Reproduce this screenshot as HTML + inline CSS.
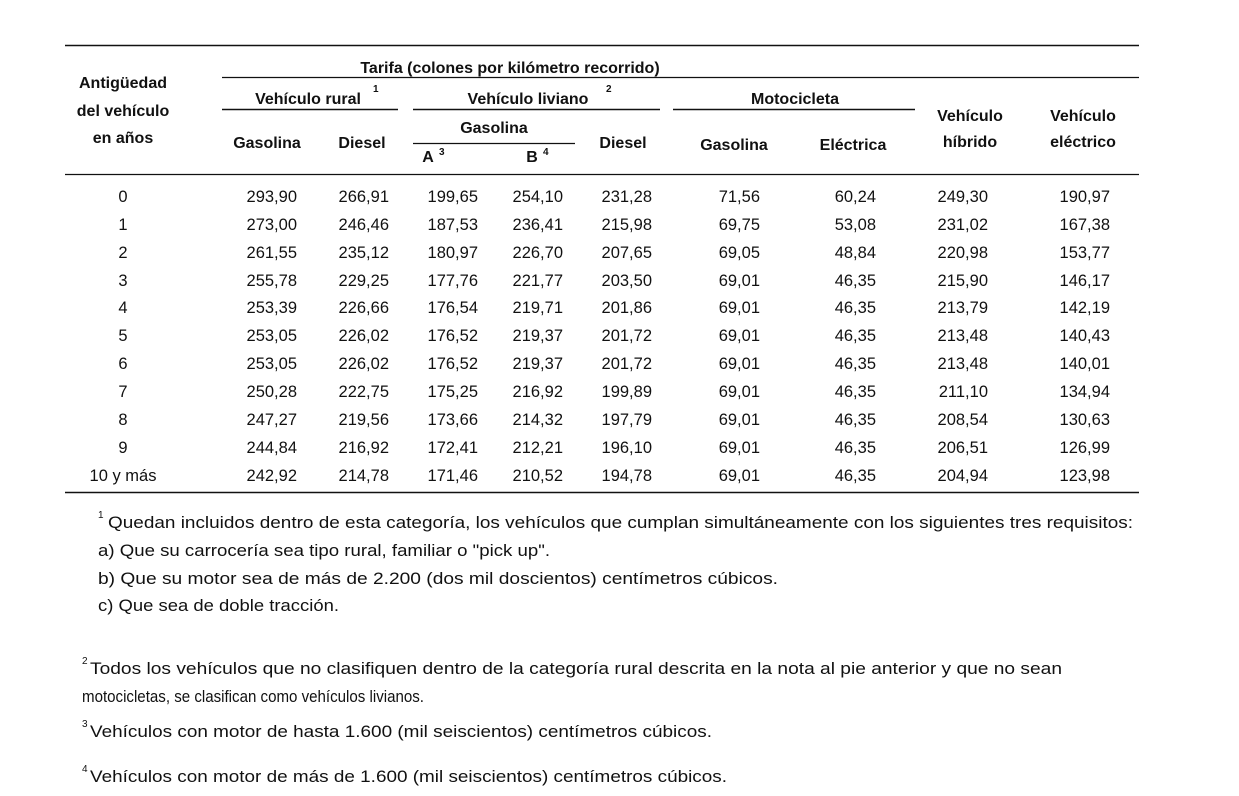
<!DOCTYPE html>
<html><head><meta charset="utf-8"><style>
html,body{margin:0;padding:0;background:#fff;}
svg{display:block;}
text{font-family:"Liberation Sans",sans-serif;fill:#111;}
.h{font-weight:bold;font-size:16px;}
.d{font-size:16.5px;}
.f{font-size:16.5px;}
.s{font-size:10px;}
</style></head><body>
<svg width="1239" height="796" viewBox="0 0 1239 796">
<g stroke="#111">
<line x1="65" y1="45.5" x2="1139" y2="45.5" stroke-width="1.6"/>
<line x1="222" y1="77.5" x2="1139" y2="77.5" stroke-width="1.2"/>
<line x1="222" y1="109.5" x2="398" y2="109.5" stroke-width="1.6"/>
<line x1="413" y1="109.5" x2="660" y2="109.5" stroke-width="1.6"/>
<line x1="673" y1="109.5" x2="915" y2="109.5" stroke-width="1.6"/>
<line x1="413" y1="143.5" x2="575" y2="143.5" stroke-width="1.2"/>
<line x1="65" y1="174.5" x2="1139" y2="174.5" stroke-width="1.2"/>
<line x1="65" y1="492.5" x2="1139" y2="492.5" stroke-width="1.6"/>
</g>
<g class="h" text-anchor="middle">
<text x="510" y="73">Tarifa (colones por kilómetro recorrido)</text>
<text x="123" y="88">Antigüedad</text>
<text x="123" y="116">del vehículo</text>
<text x="123" y="143">en años</text>
<text x="308" y="104">Vehículo rural</text>
<text x="528" y="104">Vehículo liviano</text>
<text x="795" y="104">Motocicleta</text>
<text x="494" y="133">Gasolina</text>
<text x="267" y="148">Gasolina</text>
<text x="362" y="148">Diesel</text>
<text x="623" y="148">Diesel</text>
<text x="734" y="150">Gasolina</text>
<text x="853" y="150">Eléctrica</text>
<text x="970" y="121">Vehículo</text>
<text x="970" y="147">híbrido</text>
<text x="1083" y="121">Vehículo</text>
<text x="1083" y="147">eléctrico</text>
<text x="428" y="162">A</text>
<text x="532" y="162">B</text>
</g>
<g class="s" font-weight="bold">
<text x="373" y="92">1</text>
<text x="606" y="92">2</text>
<text x="439" y="155">3</text>
<text x="543" y="155">4</text>
</g>
<g class="d" id="rows"></g>
<g class="f">
<text x="98" y="518" class="s">1</text>
<text x="108" y="528" textLength="1025" lengthAdjust="spacingAndGlyphs">Quedan incluidos dentro de esta categoría, los vehículos que cumplan simultáneamente con los siguientes tres requisitos:</text>
<text x="98" y="556" textLength="452" lengthAdjust="spacingAndGlyphs">a) Que su carrocería sea tipo rural, familiar o "pick up".</text>
<text x="98" y="584" textLength="680" lengthAdjust="spacingAndGlyphs">b) Que su motor sea de más de 2.200 (dos mil doscientos) centímetros cúbicos.</text>
<text x="98" y="611" textLength="241" lengthAdjust="spacingAndGlyphs">c) Que sea de doble tracción.</text>
<text x="82" y="664" class="s">2</text>
<text x="90" y="674" textLength="972" lengthAdjust="spacingAndGlyphs">Todos los vehículos que no clasifiquen dentro de la categoría rural descrita en la nota al pie anterior y que no sean</text>
<text x="82" y="702" textLength="342" lengthAdjust="spacingAndGlyphs">motocicletas, se clasifican como vehículos livianos.</text>
<text x="82" y="727" class="s">3</text>
<text x="90" y="737" textLength="622" lengthAdjust="spacingAndGlyphs">Vehículos con motor de hasta 1.600 (mil seiscientos) centímetros cúbicos.</text>
<text x="82" y="772" class="s">4</text>
<text x="90" y="782" textLength="637" lengthAdjust="spacingAndGlyphs">Vehículos con motor de más de 1.600 (mil seiscientos) centímetros cúbicos.</text>
</g>
<g class="d">
<text x="123" y="202" text-anchor="middle">0</text><text x="123" y="230" text-anchor="middle">1</text><text x="123" y="258" text-anchor="middle">2</text><text x="123" y="286" text-anchor="middle">3</text><text x="123" y="313" text-anchor="middle">4</text><text x="123" y="341" text-anchor="middle">5</text><text x="123" y="369" text-anchor="middle">6</text><text x="123" y="397" text-anchor="middle">7</text><text x="123" y="425" text-anchor="middle">8</text><text x="123" y="453" text-anchor="middle">9</text><text x="123" y="481" text-anchor="middle">10 y más</text>
</g>
<g class="d" text-anchor="end">
<text y="202"><tspan x="297">293,90</tspan><tspan x="389">266,91</tspan><tspan x="478">199,65</tspan><tspan x="563">254,10</tspan><tspan x="652">231,28</tspan><tspan x="760">71,56</tspan><tspan x="876">60,24</tspan><tspan x="988">249,30</tspan><tspan x="1110">190,97</tspan></text>
<text y="230"><tspan x="297">273,00</tspan><tspan x="389">246,46</tspan><tspan x="478">187,53</tspan><tspan x="563">236,41</tspan><tspan x="652">215,98</tspan><tspan x="760">69,75</tspan><tspan x="876">53,08</tspan><tspan x="988">231,02</tspan><tspan x="1110">167,38</tspan></text>
<text y="258"><tspan x="297">261,55</tspan><tspan x="389">235,12</tspan><tspan x="478">180,97</tspan><tspan x="563">226,70</tspan><tspan x="652">207,65</tspan><tspan x="760">69,05</tspan><tspan x="876">48,84</tspan><tspan x="988">220,98</tspan><tspan x="1110">153,77</tspan></text>
<text y="286"><tspan x="297">255,78</tspan><tspan x="389">229,25</tspan><tspan x="478">177,76</tspan><tspan x="563">221,77</tspan><tspan x="652">203,50</tspan><tspan x="760">69,01</tspan><tspan x="876">46,35</tspan><tspan x="988">215,90</tspan><tspan x="1110">146,17</tspan></text>
<text y="313"><tspan x="297">253,39</tspan><tspan x="389">226,66</tspan><tspan x="478">176,54</tspan><tspan x="563">219,71</tspan><tspan x="652">201,86</tspan><tspan x="760">69,01</tspan><tspan x="876">46,35</tspan><tspan x="988">213,79</tspan><tspan x="1110">142,19</tspan></text>
<text y="341"><tspan x="297">253,05</tspan><tspan x="389">226,02</tspan><tspan x="478">176,52</tspan><tspan x="563">219,37</tspan><tspan x="652">201,72</tspan><tspan x="760">69,01</tspan><tspan x="876">46,35</tspan><tspan x="988">213,48</tspan><tspan x="1110">140,43</tspan></text>
<text y="369"><tspan x="297">253,05</tspan><tspan x="389">226,02</tspan><tspan x="478">176,52</tspan><tspan x="563">219,37</tspan><tspan x="652">201,72</tspan><tspan x="760">69,01</tspan><tspan x="876">46,35</tspan><tspan x="988">213,48</tspan><tspan x="1110">140,01</tspan></text>
<text y="397"><tspan x="297">250,28</tspan><tspan x="389">222,75</tspan><tspan x="478">175,25</tspan><tspan x="563">216,92</tspan><tspan x="652">199,89</tspan><tspan x="760">69,01</tspan><tspan x="876">46,35</tspan><tspan x="988">211,10</tspan><tspan x="1110">134,94</tspan></text>
<text y="425"><tspan x="297">247,27</tspan><tspan x="389">219,56</tspan><tspan x="478">173,66</tspan><tspan x="563">214,32</tspan><tspan x="652">197,79</tspan><tspan x="760">69,01</tspan><tspan x="876">46,35</tspan><tspan x="988">208,54</tspan><tspan x="1110">130,63</tspan></text>
<text y="453"><tspan x="297">244,84</tspan><tspan x="389">216,92</tspan><tspan x="478">172,41</tspan><tspan x="563">212,21</tspan><tspan x="652">196,10</tspan><tspan x="760">69,01</tspan><tspan x="876">46,35</tspan><tspan x="988">206,51</tspan><tspan x="1110">126,99</tspan></text>
<text y="481"><tspan x="297">242,92</tspan><tspan x="389">214,78</tspan><tspan x="478">171,46</tspan><tspan x="563">210,52</tspan><tspan x="652">194,78</tspan><tspan x="760">69,01</tspan><tspan x="876">46,35</tspan><tspan x="988">204,94</tspan><tspan x="1110">123,98</tspan></text>
</g>
</svg>
</body></html>
